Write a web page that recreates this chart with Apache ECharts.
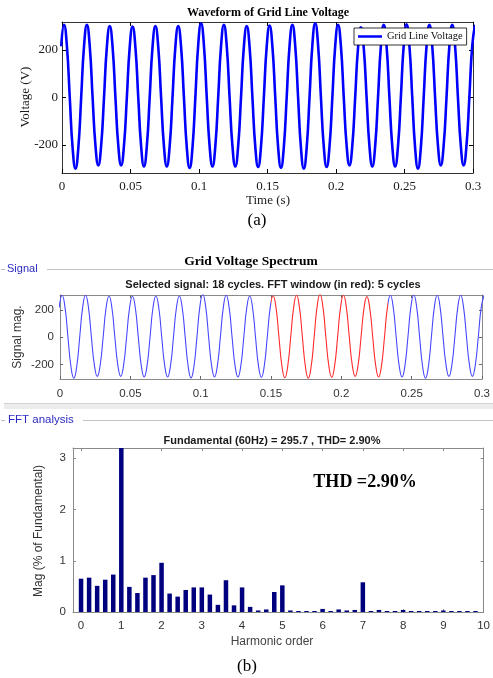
<!DOCTYPE html>
<html><head><meta charset="utf-8">
<script src="https://cdn.jsdelivr.net/npm/echarts@6/dist/echarts.min.js"></script>
<style>html,body{margin:0;padding:0;background:#fff}#c{width:493px;height:678px}</style>
</head><body><div id="c"></div>
<script>
// ---- tick labels ----
const timeTicks = [0, 0.05, 0.1, 0.15, 0.2, 0.25, 0.3];
const voltageTicks = [-200, 0, 200];
const harmonicTicks = [0, 1, 2, 3, 4, 5, 6, 7, 8, 9, 10];
const magTicks = [0, 1, 2, 3];

// ---- waveform samples (V), every 1/8 cycle, first sample 1/8 cycle before first peak ----
const firstPeakTime = 0.0015;
const sampleStep = 1 / 480;
const voltage = [
  216, 306, 216, 0, -212, -300, -212, 0,
  216, 306, 216, 0, -202, -286, -202, 0,
  213, 301, 213, 0, -202, -286, -202, 0,
  211, 299, 211, 0, -205, -290, -205, 0,
  213, 301, 213, 0, -205, -290, -205, 0,
  213, 301, 213, 0, -210, -297, -210, 0,
  221, 313, 221, 0, -205, -290, -205, 0,
  216, 306, 216, 0, -205, -290, -205, 0,
  213, 301, 213, 0, -207, -293, -207, 0,
  214, 303, 214, 0, -209, -296, -209, 0,
  216, 306, 216, 0, -212, -300, -212, 0,
  221, 313, 221, 0, -207, -293, -207, 0,
  216, 306, 216, 0, -202, -286, -202, 0,
  209, 296, 209, 0, -205, -290, -205, 0,
  216, 306, 216, 0, -205, -290, -205, 0,
  218, 308, 218, 0, -212, -300, -212, 0,
  216, 306, 216, 0, -202, -286, -202, 0,
  216, 306, 216, 0, -202, -286, -202, 0,
  216, 306
];
const fftWindow = [0.15, 0.2333];

// ---- FFT spectrum ----
const harmonicOrder = [0, 0.2, 0.4, 0.6, 0.8, 1, 1.2, 1.4, 1.6, 1.8, 2, 2.2, 2.4, 2.6, 2.8, 3, 3.2, 3.4, 3.6, 3.8,
  4, 4.2, 4.4, 4.6, 4.8, 5, 5.2, 5.4, 5.6, 5.8, 6, 6.2, 6.4, 6.6, 6.8, 7, 7.2, 7.4, 7.6, 7.8,
  8, 8.2, 8.4, 8.6, 8.8, 9, 9.2, 9.4, 9.6, 9.8];
const harmonicMag = [0.65, 0.67, 0.51, 0.63, 0.73, 100, 0.49, 0.37, 0.67, 0.72, 0.96, 0.36, 0.30, 0.43, 0.48, 0.48, 0.34, 0.14, 0.62, 0.13,
  0.48, 0.10, 0.03, 0.05, 0.39, 0.52, 0.03, 0.02, 0.02, 0.02, 0.06, 0.02, 0.05, 0.03, 0.04, 0.58, 0.02, 0.04, 0.02, 0.02,
  0.04, 0.02, 0.02, 0.02, 0.02, 0.03, 0.02, 0.02, 0.02, 0.02];

const wavePoints = voltage.map((v, i) => [firstPeakTime + (i - 1) * sampleStep, v]);
const barPoints = harmonicOrder.map((h, i) => [h, harmonicMag[i]]);

const SERIF = '"Liberation Serif", "Times New Roman", serif';
const SANS = '"Liberation Sans", Arial, Helvetica, sans-serif';

function axisPair(gridIndex, opts) {
  const base = {
    gridIndex, type: 'value', min: opts.min, max: opts.max,
    splitLine: { show: false },
    axisLine: { show: true, onZero: false, lineStyle: { color: opts.lineColor, width: opts.lineWidth || 1 } },
    axisTick: { show: true, inside: true, length: opts.tickLen || 4, lineStyle: { color: opts.tickColor || opts.lineColor }, customValues: opts.ticks },
  };
  const main = Object.assign({}, base, {
    position: opts.mainPos,
    axisLabel: { show: true, customValues: opts.ticks, color: opts.labelColor, fontFamily: opts.font, fontSize: opts.fontSize, margin: opts.margin, formatter: v => String(v) }
  });
  const mirror = Object.assign({}, base, { position: opts.mirrorPos, axisLabel: { show: false } });
  return [main, mirror];
}

const xA = axisPair(0, { min: 0, max: 0.3, ticks: timeTicks, lineColor: '#000', tickColor: '#000', labelColor: '#1a1a1a', font: SERIF, fontSize: 13, margin: 7, mainPos: 'bottom', mirrorPos: 'top', lineWidth: 0.8 });
const yA = axisPair(0, { min: -318, max: 318, ticks: voltageTicks, lineColor: '#000', tickColor: '#000', labelColor: '#1a1a1a', font: SERIF, fontSize: 13, margin: 4, mainPos: 'left', mirrorPos: 'right', lineWidth: 0.8 });
const xB = axisPair(1, { min: 0, max: 0.3, ticks: timeTicks, lineColor: '#8a8a8a', tickColor: '#666', labelColor: '#333', font: SANS, fontSize: 11.5, margin: 9, mainPos: 'bottom', mirrorPos: 'top', tickLen: 3 });
const yB = axisPair(1, { min: -305, max: 308, ticks: voltageTicks, lineColor: '#8a8a8a', tickColor: '#666', labelColor: '#333', font: SANS, fontSize: 11.5, margin: 6, mainPos: 'left', mirrorPos: 'right', tickLen: 3 });
const xC = axisPair(2, { min: -0.2, max: 10, ticks: harmonicTicks, lineColor: '#8a8a8a', tickColor: '#888', labelColor: '#333', font: SANS, fontSize: 11.5, margin: 8, mainPos: 'bottom', mirrorPos: 'top', tickLen: 3 });
const yC = axisPair(2, { min: 0, max: 3.2, ticks: magTicks, lineColor: '#8a8a8a', tickColor: '#888', labelColor: '#333', font: SANS, fontSize: 11.5, margin: 7, mainPos: 'left', mirrorPos: 'right', tickLen: 3 });

function txt(text, x, y, font, color, extra) {
  return Object.assign({
    type: 'text', x, y,
    style: { text, font, fill: color || '#000', textAlign: 'center', textVerticalAlign: 'middle' }
  }, extra || {});
}

const option = {
  backgroundColor: '#fff',
  animation: false,
  grid: [
    { left: 62, top: 22, width: 411, height: 151 },
    { left: 60, top: 295, width: 425, height: 84 },
    { left: 73, top: 448, width: 411, height: 164 }
  ],
  xAxis: [...xA, ...xB, ...xC],
  yAxis: [...yA, ...yB, ...yC],
  legend: {
    data: [{ name: 'Grid Line Voltage', icon: 'rect' }],
    left: 354, top: 28,
    padding: [3, 4, 3, 4],
    borderColor: '#000', borderWidth: 0.8, backgroundColor: '#fff',
    itemWidth: 24, itemHeight: 2.5, itemGap: 4,
    textStyle: { fontFamily: SERIF, fontSize: 10.5, color: '#111', lineHeight: 10 }
  },
  visualMap: [{
    type: 'piecewise', show: false, dimension: 0, seriesIndex: 1,
    pieces: [{ gte: fftWindow[0], lte: fftWindow[1], color: '#ff2a2a' }],
    outOfRange: { color: '#4646ff' }
  }],
  series: [
    {
      name: 'Grid Line Voltage', type: 'line', xAxisIndex: 0, yAxisIndex: 0,
      data: wavePoints, symbol: 'none', smooth: 0.5, clip: true,
      lineStyle: { color: '#0000ff', width: 2.6 }, itemStyle: { color: '#0000ff' }, z: 3
    },
    {
      name: 'Signal', type: 'line', xAxisIndex: 2, yAxisIndex: 2,
      data: wavePoints, symbol: 'none', smooth: 0.5, clip: true,
      lineStyle: { width: 1.1 }
    },
    {
      name: 'FFT', type: 'bar', xAxisIndex: 4, yAxisIndex: 4,
      data: barPoints, barWidth: 4.5, clip: true,
      itemStyle: { color: '#00007f' }
    }
  ],
  graphic: [
    txt('Waveform of Grid Line Voltage', 268, 13, 'bold 12px ' + SERIF, '#000'),
    txt('Voltage (V)', 26, 97, '13px ' + SERIF, '#1a1a1a', { rotation: Math.PI / 2 }),
    txt('Time (s)', 268, 201, '13px ' + SERIF, '#1a1a1a'),
    txt('(a)', 257, 221, '17px ' + SERIF, '#000'),
    txt('Grid Voltage Spectrum', 251, 262, 'bold 13.5px ' + SERIF, '#000'),
    { type: 'line', shape: { x1: 1, y1: 269.5, x2: 5, y2: 269.5 }, style: { stroke: '#bdbdbd', lineWidth: 1 } },
    { type: 'line', shape: { x1: 47, y1: 269.5, x2: 493, y2: 269.5 }, style: { stroke: '#c4c4c4', lineWidth: 1 } },
    txt('Signal', 7, 269, '11px ' + SANS, '#2b2bc4', { style: { text: 'Signal', font: '11px ' + SANS, fill: '#2b2bc4', textAlign: 'left', textVerticalAlign: 'middle' } }),
    txt('Selected signal: 18 cycles. FFT window (in red): 5 cycles', 273, 285, 'bold 11px ' + SANS, '#1a1a1a'),
    txt('Signal mag.', 18, 337, '12px ' + SANS, '#333', { rotation: Math.PI / 2 }),
    { type: 'rect', shape: { x: 4, y: 403, width: 489, height: 6 }, style: { fill: '#ececec' } },
    { type: 'line', shape: { x1: 4, y1: 403.5, x2: 493, y2: 403.5 }, style: { stroke: '#d2d2d2', lineWidth: 1 } },
    { type: 'line', shape: { x1: 1, y1: 420.5, x2: 5, y2: 420.5 }, style: { stroke: '#bdbdbd', lineWidth: 1 } },
    { type: 'line', shape: { x1: 83, y1: 420.5, x2: 493, y2: 420.5 }, style: { stroke: '#c4c4c4', lineWidth: 1 } },
    txt('FFT analysis', 8, 420, '11px ' + SANS, '#2b2bc4', { style: { text: 'FFT analysis', font: '11.5px ' + SANS, fill: '#2b2bc4', textAlign: 'left', textVerticalAlign: 'middle' } }),
    txt('Fundamental (60Hz) = 295.7 , THD= 2.90%', 272, 441, 'bold 11px ' + SANS, '#1a1a1a'),
    txt('Mag (% of Fundamental)', 39, 531, '12px ' + SANS, '#333', { rotation: Math.PI / 2 }),
    txt('THD =2.90%', 365, 482, 'bold 18px ' + SERIF, '#000'),
    txt('Harmonic order', 272, 642, '12px ' + SANS, '#444'),
    txt('(b)', 247, 667, '17px ' + SERIF, '#000')
  ]
};

const chart = echarts.init(document.getElementById('c'), null, { renderer: 'canvas' });
chart.setOption(option);
</script>
</body></html>
